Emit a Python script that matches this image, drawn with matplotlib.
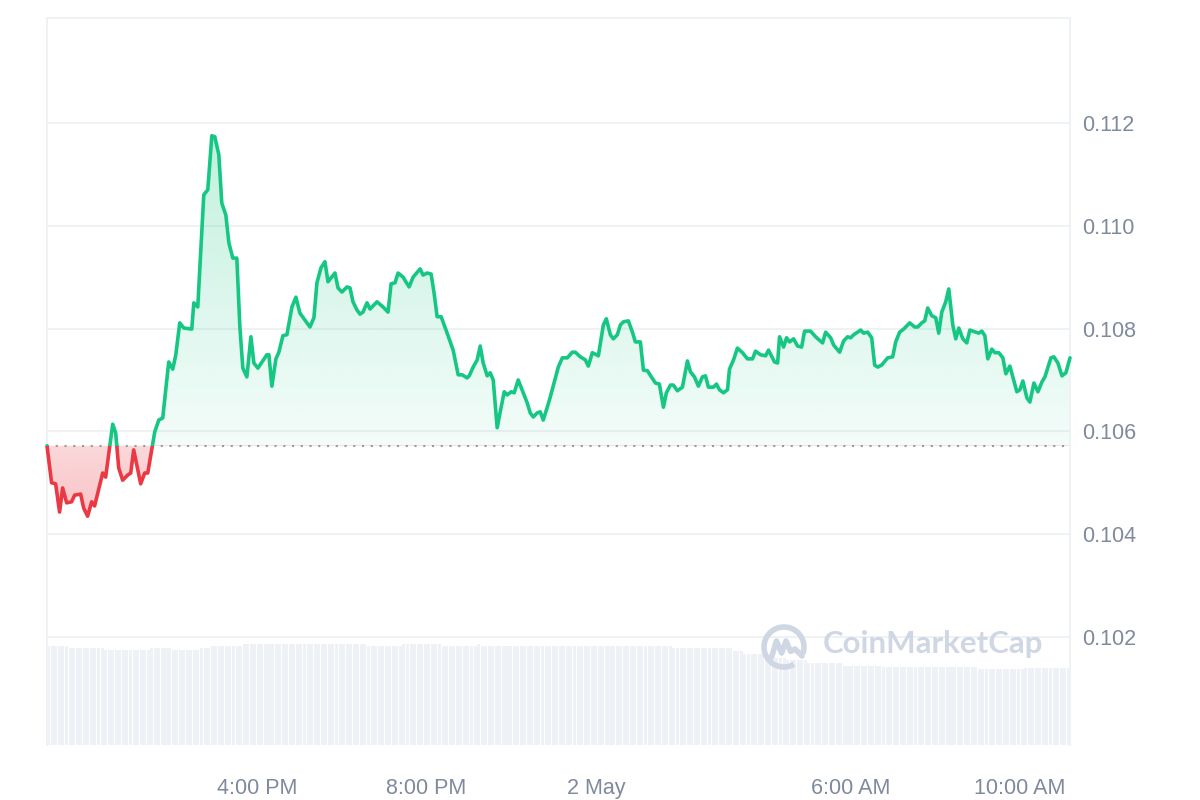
"""
Recreate a CoinMarketCap style 24h price chart with a volume strip.
"""

import matplotlib.pyplot as plt
import numpy as np
from matplotlib.patches import Arc, PathPatch, Rectangle
from matplotlib.path import Path

# Minutes after 11:00 AM, 1 May
times = [3, 9.5, 15.2, 20.8, 25.1, 30.8, 37.8, 42.1, 50.6, 54.9, 60.5, 66.2,
         70.4, 81.8, 86.0, 96.0, 100.2, 104.5, 110.1, 117.2, 121.5, 125.7,
         135.6, 141.3, 145.6, 155.5, 161.2, 166.8, 175.3, 181.0, 185.3, 190.9,
         196.6, 207.9, 210.8, 216.4, 224.9, 230.6, 236.3, 240.5, 246.2, 250.4,
         256.1, 260.4, 266.0, 271.7, 276.0, 280.2, 285.9, 291.6, 295.8, 301.5,
         314.2, 317.1, 321.3, 327.0, 331.2, 336.9, 342.6, 349.7, 355.3, 361.0,
         375.2, 380.8, 385.1, 390.8, 396.4, 400.7, 410.6, 414.9, 420.5, 427.6,
         431.9, 436.1, 441.8, 446.0, 450.3, 455.9, 460.2, 470.1, 478.6, 485.7,
         490.0, 495.6, 499.9, 507.0, 515.5, 521.2, 531.1, 535.4, 541.0, 546.7,
         550.9, 555.2, 560.9, 569.4, 577.9, 585.0, 590.6, 597.7, 600.6, 606.2,
         611.9, 616.2, 620.4, 626.1, 630.3, 634.6, 640.2, 644.5, 650.2, 654.4,
         660.1, 664.3, 670.0, 677.1, 682.8, 687.0, 691.3, 696.9, 701.2, 705.4,
         711.1, 715.4, 721.0, 726.7, 732.4, 739.4, 746.5, 750.8, 757.9, 765.0,
         769.2, 774.9, 783.4, 790.5, 794.7, 800.4, 804.6, 810.3, 814.6, 818.8,
         825.9, 831.6, 835.8, 842.9, 847.2, 852.8, 858.5, 864.2, 869.8, 875.5,
         879.7, 885.4, 889.6, 895.3, 902.4, 909.5, 913.7, 919.4, 925.0, 930.7,
         935.0, 939.2, 946.3, 950.6, 954.8, 960.5, 966.2, 969.0, 974.7, 980.3,
         987.4, 994.5, 1001.6, 1005.9, 1013.0, 1020.1, 1024.3, 1032.8, 1037.1,
         1039.9, 1045.6, 1049.8, 1054.1, 1059.7, 1065.4, 1071.1, 1075.3, 1083.8,
         1090.9, 1100.8, 1105.1, 1112.2, 1116.4, 1124.9, 1130.6, 1136.3, 1140.5,
         1144.8, 1154.7, 1158.9, 1164.6, 1170.3, 1174.5, 1178.8, 1184.4, 1192.9,
         1200.0, 1204.3, 1209.9, 1215.6, 1224.1, 1231.2, 1235.5, 1241.1, 1245.4,
         1249.6, 1255.3, 1261.0, 1265.2, 1269.5, 1275.1, 1279.4, 1285.1, 1289.3,
         1293.6, 1299.3, 1304.9, 1309.2, 1317.7, 1321.9, 1326.2, 1330.5, 1334.7,
         1340.4, 1344.6, 1350.3, 1356.0, 1360.2, 1365.9, 1375.8, 1380.1, 1384.3,
         1390.0, 1394.2, 1399.9, 1405.6, 1411.2, 1415.5, 1424.0, 1428.2, 1433.9,
         1439.6, 1445.2, 1451]

prices = [0.10572, 0.10500, 0.10498, 0.10443, 0.10490, 0.10461, 0.10463,
          0.10476, 0.10478, 0.10451, 0.10435, 0.10463, 0.10455, 0.10519,
          0.10511, 0.10614, 0.10597, 0.10529, 0.10505, 0.10515, 0.10519,
          0.10564, 0.10498, 0.10519, 0.10519, 0.10599, 0.10622, 0.10626,
          0.10735, 0.10721, 0.10749, 0.10811, 0.10801, 0.10799, 0.10850,
          0.10842, 0.11060, 0.11070, 0.11175, 0.11173, 0.11138, 0.11044,
          0.11021, 0.10967, 0.10937, 0.10937, 0.10803, 0.10723, 0.10706,
          0.10784, 0.10733, 0.10723, 0.10749, 0.10749, 0.10688, 0.10741,
          0.10754, 0.10786, 0.10788, 0.10842, 0.10861, 0.10830, 0.10803,
          0.10821, 0.10889, 0.10918, 0.10930, 0.10891, 0.10908, 0.10879,
          0.10871, 0.10881, 0.10879, 0.10852, 0.10836, 0.10828, 0.10832,
          0.10850, 0.10838, 0.10852, 0.10842, 0.10832, 0.10887, 0.10889,
          0.10908, 0.10900, 0.10881, 0.10900, 0.10916, 0.10904, 0.10908,
          0.10906, 0.10869, 0.10823, 0.10823, 0.10791, 0.10758, 0.10710,
          0.10710, 0.10704, 0.10708, 0.10725, 0.10739, 0.10766, 0.10733,
          0.10708, 0.10714, 0.10700, 0.10607, 0.10638, 0.10677, 0.10671,
          0.10677, 0.10675, 0.10700, 0.10675, 0.10655, 0.10636, 0.10628,
          0.10636, 0.10638, 0.10622, 0.10647, 0.10667, 0.10696, 0.10725,
          0.10743, 0.10743, 0.10754, 0.10754, 0.10745, 0.10739, 0.10727,
          0.10753, 0.10747, 0.10807, 0.10819, 0.10788, 0.10780, 0.10788,
          0.10807, 0.10813, 0.10815, 0.10793, 0.10774, 0.10774, 0.10719,
          0.10718, 0.10706, 0.10694, 0.10692, 0.10647, 0.10675, 0.10690,
          0.10690, 0.10679, 0.10686, 0.10737, 0.10716, 0.10706, 0.10688,
          0.10706, 0.10708, 0.10686, 0.10686, 0.10692, 0.10681, 0.10675,
          0.10681, 0.10721, 0.10739, 0.10762, 0.10753, 0.10741, 0.10741,
          0.10756, 0.10749, 0.10747, 0.10758, 0.10735, 0.10733, 0.10784,
          0.10764, 0.10782, 0.10774, 0.10780, 0.10766, 0.10764, 0.10795,
          0.10795, 0.10784, 0.10772, 0.10793, 0.10782, 0.10768, 0.10754,
          0.10776, 0.10784, 0.10782, 0.10788, 0.10797, 0.10791, 0.10793,
          0.10782, 0.10729, 0.10725, 0.10729, 0.10743, 0.10745, 0.10774,
          0.10793, 0.10799, 0.10811, 0.10803, 0.10803, 0.10811, 0.10815,
          0.10840, 0.10825, 0.10821, 0.10791, 0.10832, 0.10852, 0.10877,
          0.10807, 0.10780, 0.10801, 0.10780, 0.10772, 0.10797, 0.10793,
          0.10791, 0.10795, 0.10786, 0.10741, 0.10760, 0.10753, 0.10753,
          0.10743, 0.10712, 0.10727, 0.10677, 0.10681, 0.10698, 0.10665,
          0.10657, 0.10694, 0.10677, 0.10696, 0.10706, 0.10743, 0.10745,
          0.10733, 0.10708, 0.10714, 0.10743]

base_price = 0.10572

# 24h volume, 5 minute bars: level (millions) and how many bars in a row
vol_levels = [9.9, 9.7, 9.5, 9.7, 9.5, 9.7, 9.9, 10.1, 9.9, 10.1, 9.9, 10.1,
              9.9, 9.7, 9.4, 9.1, 8.7, 8.5, 8.2, 7.9, 7.8, 7.6, 7.7]
vol_counts = [6, 10, 13, 6, 8, 3, 9, 35, 10, 11, 10, 1, 54, 17, 3, 6, 6, 6,
              10, 11, 27, 13, 13]

tick_minutes = [300, 540, 780, 1140, 1380]
tick_labels = ["4:00 PM", "8:00 PM", "2 May", "6:00 AM", "10:00 AM"]
price_ticks = [0.102, 0.104, 0.106, 0.108, 0.110, 0.112]

GREEN = "#16c784"
RED = "#ea3943"
GRID = "#eff2f5"
LABEL = "#808a9d"


def gradient_fill(ax, clip_patch, y0, y1, rgb, a0, a1):
    """Vertical alpha gradient between y0 (alpha a0) and y1 (alpha a1)."""
    n = 256
    img = np.zeros((n, 1, 4))
    img[:, 0, :3] = rgb
    img[:, 0, 3] = np.linspace(a0, a1, n)
    x0, x1 = ax.get_xlim()
    im = ax.imshow(img, extent=[x0, x1, y0, y1], origin="lower",
                   aspect="auto", interpolation="bilinear", zorder=2)
    im.set_clip_path(clip_patch)


def draw_logo(fig):
    """Small CoinMarketCap watermark logo."""
    lax = fig.add_axes([760 / 1200, 129 / 800, 48 / 1200, 48 / 800])
    lax.set_xlim(-1.2, 1.2)
    lax.set_ylim(-1.2, 1.2)
    lax.set_aspect("equal")
    lax.axis("off")
    color = "#cfd6e4"
    lax.add_patch(Arc((0, 0), 2.0, 2.0, theta1=-20, theta2=300,
                      color=color, lw=4.0))
    verts = [(-0.62, -0.5), (-0.38, 0.3), (-0.12, -0.3), (0.1, 0.3),
             (0.33, -0.22), (0.55, -0.1), (0.9, -0.45)]
    path = Path(verts, [Path.MOVETO] + [Path.LINETO] * (len(verts) - 1))
    lax.add_patch(PathPatch(path, fill=False, edgecolor=color, lw=4.0,
                            capstyle="round", joinstyle="round"))


def main():
    plt.rcParams["font.family"] = ["Liberation Sans", "DejaVu Sans"]

    fig = plt.figure(figsize=(12, 8), dpi=100)
    rect = [47 / 1200, 55 / 800, 1023 / 1200, 727 / 800]
    ax_vol = fig.add_axes(rect)
    ax = fig.add_axes(rect, sharex=ax_vol)
    ax.patch.set_visible(False)

    t = np.array(times)
    p = np.array(prices)
    xmin, xmax = t[0], t[-1]

    # volume strip
    vol = np.repeat(vol_levels, vol_counts)
    step = (xmax - xmin) / len(vol)
    vol_x = xmin + step * (np.arange(len(vol)) + 0.5)
    ax_vol.bar(vol_x, vol, width=step * 0.85, color="#eef1f5", linewidth=0)
    ax_vol.set_ylim(0, 72.7)
    ax_vol.axis("off")

    ax.set_xlim(xmin, xmax)
    ax.set_ylim(0.0999, 0.11404)

    for yv in price_ticks:
        ax.axhline(yv, color=GRID, lw=1.4, zorder=1)

    # area between price and baseline, coloured by side
    verts = [(xmin, base_price)] + list(zip(t, p)) + [(xmax, base_price)]
    area = Path(verts, closed=False)
    clip = PathPatch(area, transform=ax.transData, facecolor="none",
                     edgecolor="none")
    ax.add_patch(clip)
    gradient_fill(ax, clip, base_price, p.max(), (22 / 255, 199 / 255, 132 / 255),
                  0.05, 0.26)
    gradient_fill(ax, clip, p.min(), base_price, (234 / 255, 57 / 255, 67 / 255),
                  0.3, 0.2)

    above = Rectangle((xmin - 50, base_price), xmax - xmin + 100, 1,
                      transform=ax.transData)
    below = Rectangle((xmin - 50, base_price - 1), xmax - xmin + 100, 1,
                      transform=ax.transData)
    green_line, = ax.plot(t, p, color=GREEN, lw=2.6, zorder=4,
                          solid_joinstyle="round", solid_capstyle="round")
    green_line.set_clip_path(above)
    red_line, = ax.plot(t, p, color=RED, lw=2.6, zorder=4,
                        solid_joinstyle="round", solid_capstyle="round")
    red_line.set_clip_path(below)

    ax.plot([xmin, xmax], [base_price, base_price], color="#9a9a9a",
            lw=1.5, linestyle=(0, (1, 3.2)), zorder=3)

    ax.set_xticks(tick_minutes)
    ax.set_xticklabels(tick_labels)
    ax.set_yticks(price_ticks)
    ax.set_yticklabels([f"{v:.3f}" for v in price_ticks])
    ax.yaxis.tick_right()
    ax.tick_params(axis="both", length=0, labelsize=15.5, labelcolor=LABEL)
    ax.tick_params(axis="x", pad=24)
    ax.tick_params(axis="y", pad=9)

    for side in ("left", "right", "top"):
        ax.spines[side].set_color(GRID)
        ax.spines[side].set_linewidth(1.4)
    ax.spines["bottom"].set_visible(False)

    fig.text(823 / 1200, 147 / 800, "CoinMarketCap", fontsize=22.5,
             fontfamily=["Lato", "DejaVu Sans"], fontweight="bold",
             color="#cfd6e4", va="baseline")
    draw_logo(fig)

    fig.savefig("out.png", dpi=100)
    plt.close(fig)


if __name__ == "__main__":
    main()
